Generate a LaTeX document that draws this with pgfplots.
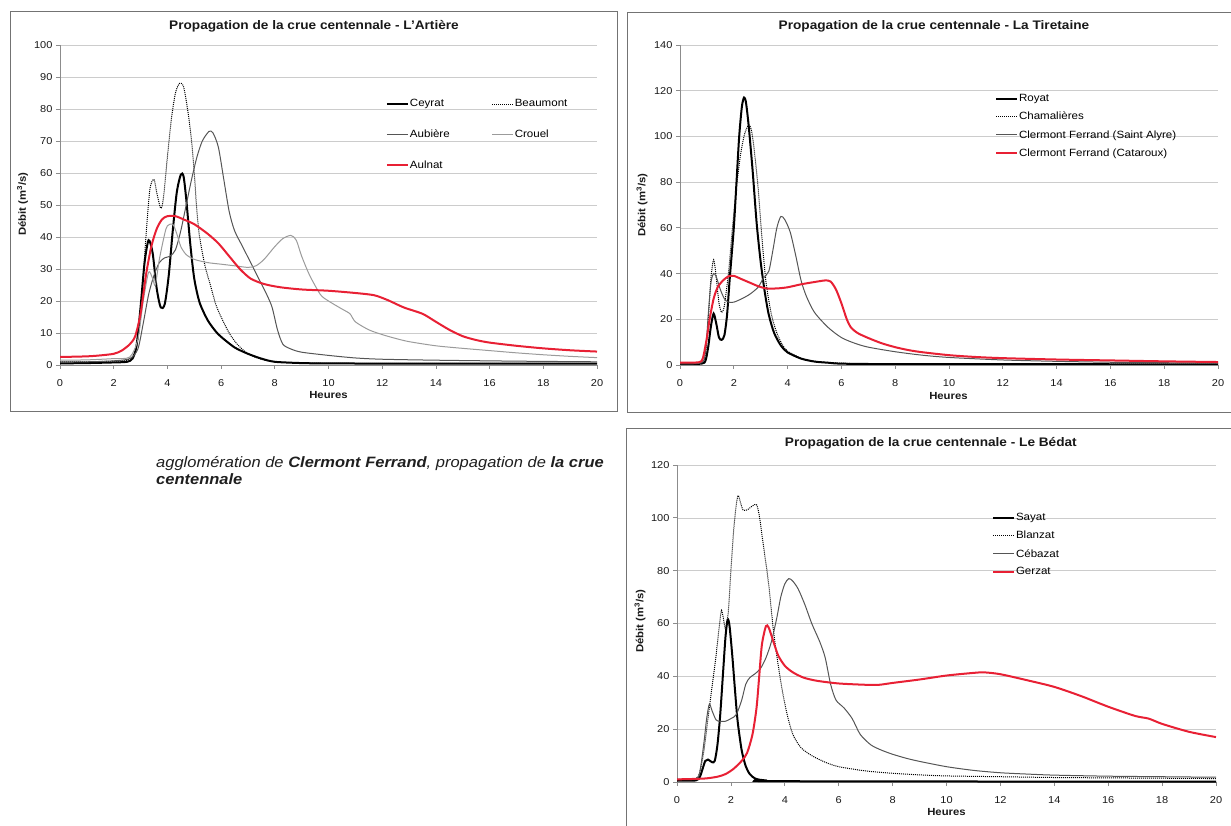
\documentclass[border=0pt]{standalone}
\usepackage{fontspec}
\setmainfont{Liberation Sans}[FakeStretch=1.1]
\usepackage{pgfplots}
\pgfplotsset{compat=1.18}
\definecolor{crimson}{RGB}{232,32,52}
\definecolor{dgray}{RGB}{85,85,85}
\definecolor{lgray}{RGB}{155,155,155}
\pgfplotsset{
 every axis title shift=0pt,
 hydro/.style={
  scale only axis, xmin=0, xmax=20, ymin=0,
  xtick={0,2,...,20},
  axis x line*=bottom, axis y line*=left,
  axis line style={draw=black!45, line width=0.8pt},
  ymajorgrids, major grid style={draw=black!20, line width=0.6pt},
  tick style={draw=black!45, line width=0.8pt},
  tick align=outside, major tick length=4pt,
  tick label style={font=\fontsize{10}{12}\selectfont, color=black!90},
  xticklabel style={yshift=-7pt},
  /pgf/number format/assume math mode=true,
  label style={font=\bfseries\fontsize{10.3}{12}\selectfont, color=black!90},
  title style={font=\bfseries\fontsize{12.4}{14}\selectfont, color=black!90},
  legend style={draw=none, fill=none, font=\fontsize{10.5}{12}\selectfont,
    inner sep=0pt, outer sep=0pt, nodes={inner sep=1pt, anchor=west}, anchor=north west},
  legend cell align=left,
  legend image code/.code={\draw[##1, line cap=butt] (0pt,0pt) -- (21pt,0pt);},
  every axis plot/.append style={smooth, tension=0.45, no markers},
 },
 s1/.style={black, line width=2pt},
 s2/.style={black, densely dotted, line width=1pt},
 s3/.style={dgray, line width=1pt},
 s4/.style={lgray, line width=1pt},
 s5/.style={crimson, line width=2pt},
}
\begin{document}
\begin{tikzpicture}[x=1pt,y=1pt]
\useasboundingbox (0,0) rectangle (1231,825);
% chart frames
\draw[black!55, line width=0.9pt] (10,814) rectangle (617,414);
\draw[black!55, line width=0.9pt] (627,813) rectangle (1245,413);
\draw[black!55, line width=0.9pt] (626,397) rectangle (1245,-10);

% ---------------- L'Artiere ----------------
\begin{axis}[hydro, at={(60pt,460pt)}, anchor=south west, width=537pt, height=320pt,
  ymax=100, ytick={0,10,...,100},
  title={Propagation de la crue centennale - L'Artière},
  title style={at={(axis description cs:0.473,1.059)}, anchor=center},
  xlabel={Heures}, xlabel style={at={(axis description cs:0.5,-0.094)}, anchor=center},
  ylabel={Débit (m\textsuperscript{3}/s)}, ylabel style={at={(axis description cs:-0.0698,0.503)}, anchor=center},
  legend columns=2,
  legend style={at={(axis description cs:0.607,0.8325)}, row sep=19.5pt,
    /tikz/every even column/.append style={column sep=41pt}},
]
\addplot[s1] coordinates {(0,0.5)(1,0.6)(2,0.8)(2.5,1)(2.7,2)(2.85,6)(3.0,18)(3.15,32)(3.3,39)(3.45,35)(3.6,24)(3.75,18)(3.9,19)(4.05,28)(4.2,42)(4.35,54)(4.5,59.5)(4.6,59)(4.7,52)(4.85,38)(5.0,27)(5.2,19.5)(5.5,14)(5.8,10.5)(6.0,8.8)(6.5,5.5)(7,3.5)(7.5,2)(8,1)(9,0.6)(10,0.5)(14,0.4)(20,0.4)};
\addlegendentry{Ceyrat}
\addplot[s2] coordinates {(0,1)(1,1)(2,1.2)(2.5,1.5)(2.8,4)(3.0,15)(3.2,40)(3.35,55)(3.5,58)(3.6,54)(3.75,49)(3.85,52)(4.0,65)(4.15,77)(4.3,85)(4.45,88)(4.6,87)(4.75,80)(4.9,70)(5.0,60)(5.1,48)(5.2,40)(5.4,31)(5.6,25)(5.8,19)(6.0,15)(6.3,10)(6.6,6.5)(7.0,3.5)(7.5,1.8)(8,1)(9,0.7)(12,0.5)(20,0.5)};
\addlegendentry{Beaumont}
\addplot[s3] coordinates {(0,1)(1,1)(2,1.3)(2.6,2)(2.9,5)(3.1,13)(3.3,22)(3.5,28)(3.7,32)(3.9,33.5)(4.1,34)(4.3,36)(4.5,42)(4.7,50)(4.9,58)(5.1,65)(5.3,70)(5.55,73)(5.7,72.5)(5.9,68)(6.1,58)(6.3,48)(6.5,42)(6.8,37)(7.1,32)(7.4,27)(7.7,22)(7.9,18)(8.1,11)(8.3,6.5)(8.6,5)(9,4)(10,3)(11,2.2)(12,1.8)(14,1.5)(17,1.2)(20,1)};
\addlegendentry{Aubière}
\addplot[s4] coordinates {(0,1.5)(1,1.6)(2,2)(2.6,2.5)(2.9,8)(3.1,20)(3.3,29)(3.45,27)(3.55,25)(3.7,33)(3.9,41)(4.0,43.5)(4.2,44)(4.35,41)(4.5,37)(4.7,34.5)(5.0,33)(5.5,32)(6.0,31.5)(6.5,31)(7.0,30.5)(7.3,31)(7.6,33)(8.0,37)(8.3,39.5)(8.6,40.5)(8.8,39)(9.0,34)(9.3,28)(9.7,22)(10.0,20)(10.5,17.5)(10.8,16)(11.0,13.5)(11.5,11)(12,9.5)(12.5,8.3)(13,7.3)(14,6)(15,5.2)(16,4.5)(17,3.8)(18,3.2)(19,2.7)(20,2.3)};
\addlegendentry{Crouel}
\addplot[s5] coordinates {(0,2.5)(1,2.7)(1.5,3)(2,3.5)(2.3,4.5)(2.6,6.5)(2.8,9)(3.0,16)(3.2,28)(3.4,37)(3.6,42.5)(3.8,45.5)(4.0,46.5)(4.3,46.5)(4.6,45.5)(5.0,44)(5.5,41)(5.9,38)(6.3,34)(6.7,30)(7.1,27)(7.6,25.3)(8.2,24.3)(9,23.6)(10,23.2)(11,22.5)(11.7,21.8)(12.2,20.3)(12.8,18)(13.5,16)(14,13.5)(14.5,11)(15,9)(15.5,7.8)(16,7)(17,6)(18,5.2)(19,4.6)(20,4.2)};
\addlegendentry{Aulnat}
\end{axis}

% ---------------- La Tiretaine ----------------
\begin{axis}[hydro, at={(680pt,460pt)}, anchor=south west, width=538pt, height=320pt,
  ymax=140, ytick={0,20,...,140},
  title={Propagation de la crue centennale - La Tiretaine},
  title style={at={(axis description cs:0.472,1.059)}, anchor=center},
  xlabel={Heures}, xlabel style={at={(axis description cs:0.499,-0.097)}, anchor=center},
  ylabel={Débit (m\textsuperscript{3}/s)}, ylabel style={at={(axis description cs:-0.0706,0.5)}, anchor=center},
  legend style={at={(axis description cs:0.5855,0.8485)}, row sep=7pt},
]
\addplot[s1] coordinates {(0,0.5)(0.8,0.6)(0.95,2)(1.05,8)(1.15,17)(1.25,22.5)(1.35,18)(1.45,12)(1.55,11)(1.65,13)(1.75,22)(1.85,38)(2.0,60)(2.1,80)(2.2,100)(2.3,113)(2.38,117)(2.45,115)(2.55,105)(2.7,85)(2.85,62)(3.0,45)(3.15,32)(3.3,22)(3.5,14)(3.75,8.5)(4.0,5.5)(4.5,2.8)(5.0,1.5)(5.5,1)(6,0.6)(8,0.4)(20,0.3)};
\addlegendentry{Royat}
\addplot[s2] coordinates {(0,0.5)(0.8,0.8)(0.95,5)(1.05,20)(1.15,38)(1.25,46)(1.35,38)(1.45,27)(1.55,23)(1.65,26)(1.8,40)(1.95,60)(2.1,78)(2.25,92)(2.4,101)(2.55,105)(2.65,103)(2.75,95)(2.9,78)(3.05,55)(3.2,36)(3.4,22)(3.6,14)(3.8,9)(4.0,6)(4.5,3)(5,1.6)(6,0.8)(8,0.5)(20,0.4)};
\addlegendentry{Chamalières}
\addplot[s3] coordinates {(0,0.5)(0.8,1)(0.95,6)(1.05,22)(1.15,36)(1.25,40)(1.35,38.5)(1.5,33)(1.65,29)(1.8,27.5)(2.0,27.5)(2.3,29)(2.6,31)(2.9,34)(3.1,38)(3.3,41)(3.45,50)(3.6,60)(3.75,65)(3.9,63.5)(4.1,58)(4.3,48)(4.5,37)(4.7,30)(5.0,23)(5.5,16.5)(6.0,12)(6.5,9.5)(7.0,7.8)(8,5.8)(9,4.3)(10,3.3)(12,2.2)(14,1.6)(16,1.2)(18,1)(20,0.8)};
\addlegendentry{Clermont Ferrand (Saint Alyre)}
\addplot[s5] coordinates {(0,1)(0.7,1.2)(0.85,3)(1.0,12)(1.1,20)(1.25,29)(1.4,34)(1.6,37)(1.8,38.8)(2.0,39)(2.3,37.5)(2.6,36)(2.9,34.5)(3.2,33.5)(3.6,33.5)(4.0,34)(4.5,35.3)(5.0,36.3)(5.4,37)(5.6,36.5)(5.8,33)(6.0,27)(6.2,20)(6.35,16.5)(6.6,14)(7,11.8)(7.5,9.5)(8,7.8)(8.5,6.5)(9,5.6)(10,4.3)(11,3.5)(12,3)(14,2.4)(16,2)(18,1.6)(20,1.3)};
\addlegendentry{Clermont Ferrand (Cataroux)}
\end{axis}

% ---------------- Le Bedat ----------------
\begin{axis}[hydro, at={(677pt,43pt)}, anchor=south west, width=539pt, height=317pt,
  ymax=120, ytick={0,20,...,120},
  title={Propagation de la crue centennale - Le Bédat},
  title style={at={(axis description cs:0.471,1.069)}, anchor=center},
  xlabel={Heures}, xlabel style={at={(axis description cs:0.5,-0.095)}, anchor=center},
  ylabel={Débit (m\textsuperscript{3}/s)}, ylabel style={at={(axis description cs:-0.0686,0.508)}, anchor=center},
  legend style={at={(axis description cs:0.5844,0.8505)}, row sep=7pt},
]
\addplot[s1] coordinates {(0,0.5)(0.7,0.6)(0.85,2)(0.95,5)(1.05,8)(1.15,8.5)(1.3,7.5)(1.4,8)(1.5,14)(1.6,25)(1.7,40)(1.8,55)(1.88,61.5)(1.95,59)(2.05,48)(2.15,35)(2.25,23)(2.4,12)(2.55,6)(2.7,3)(2.9,1.3)(3.2,0.7)(4,0.3)(20,0.1)};
\addlegendentry{Sayat}
\addplot[s2] coordinates {(0,1)(0.7,1.2)(0.85,4)(1.0,12)(1.15,24)(1.3,36)(1.45,48)(1.58,60)(1.65,65)(1.72,62)(1.8,58)(1.9,64)(2.0,80)(2.1,95)(2.2,105)(2.27,108.5)(2.35,106)(2.45,103)(2.6,103)(2.8,104.5)(2.95,105)(3.05,101)(3.2,90)(3.4,75)(3.55,60)(3.7,48)(3.9,35)(4.1,25)(4.3,18)(4.6,13)(5.0,10)(5.5,7.5)(6,5.8)(7,4.2)(8,3.3)(9,2.7)(10,2.3)(12,2)(14,1.7)(17,1.5)(20,1.3)};
\addlegendentry{Blanzat}
\addplot[s3] coordinates {(0,1)(0.7,1.2)(0.85,4)(1.0,15)(1.1,24)(1.2,29.5)(1.3,27)(1.45,23.5)(1.6,23)(1.8,23)(2.0,24)(2.2,25.5)(2.4,31)(2.55,37)(2.7,39.5)(2.9,41)(3.1,43)(3.3,47)(3.5,53)(3.7,62)(3.85,70)(4.0,75)(4.15,77)(4.3,76)(4.5,73)(4.75,67)(5.0,60)(5.3,53)(5.5,47)(5.7,37)(5.9,31)(6.2,28)(6.5,24)(6.8,18)(7.2,14)(7.6,12)(8,10.5)(8.5,9)(9,7.8)(10,5.8)(11,4.4)(12,3.5)(13,3)(14,2.6)(16,2.2)(18,2)(20,1.8)};
\addlegendentry{Cébazat}
\addplot[s5] coordinates {(0,1)(1,1.3)(1.5,2)(1.8,3)(2.1,5)(2.4,8)(2.6,11)(2.8,18)(2.95,28)(3.05,40)(3.15,52)(3.3,59)(3.4,58.5)(3.55,54)(3.75,48)(4.0,44)(4.3,41.5)(4.7,39.5)(5.2,38.3)(6,37.3)(7,36.8)(7.5,36.8)(8,37.5)(9,38.8)(10,40.3)(11,41.3)(11.4,41.5)(12,40.8)(13,38.5)(14,36)(15,32.5)(16,28.5)(17,25)(17.5,24)(18,22)(19,19)(20,17)};
\addlegendentry{Gerzat}
\end{axis}

% caption text
\node[anchor=base west, inner sep=0pt, font=\itshape\fontsize{15}{18}\selectfont, color=black!88] at (156,357)
  {agglomération de \textbf{Clermont Ferrand}, propagation de \textbf{la crue}};
\node[anchor=base west, inner sep=0pt, font=\itshape\bfseries\fontsize{15}{18}\selectfont, color=black!88] at (156,340)
  {centennale};
\end{tikzpicture}
\end{document}
